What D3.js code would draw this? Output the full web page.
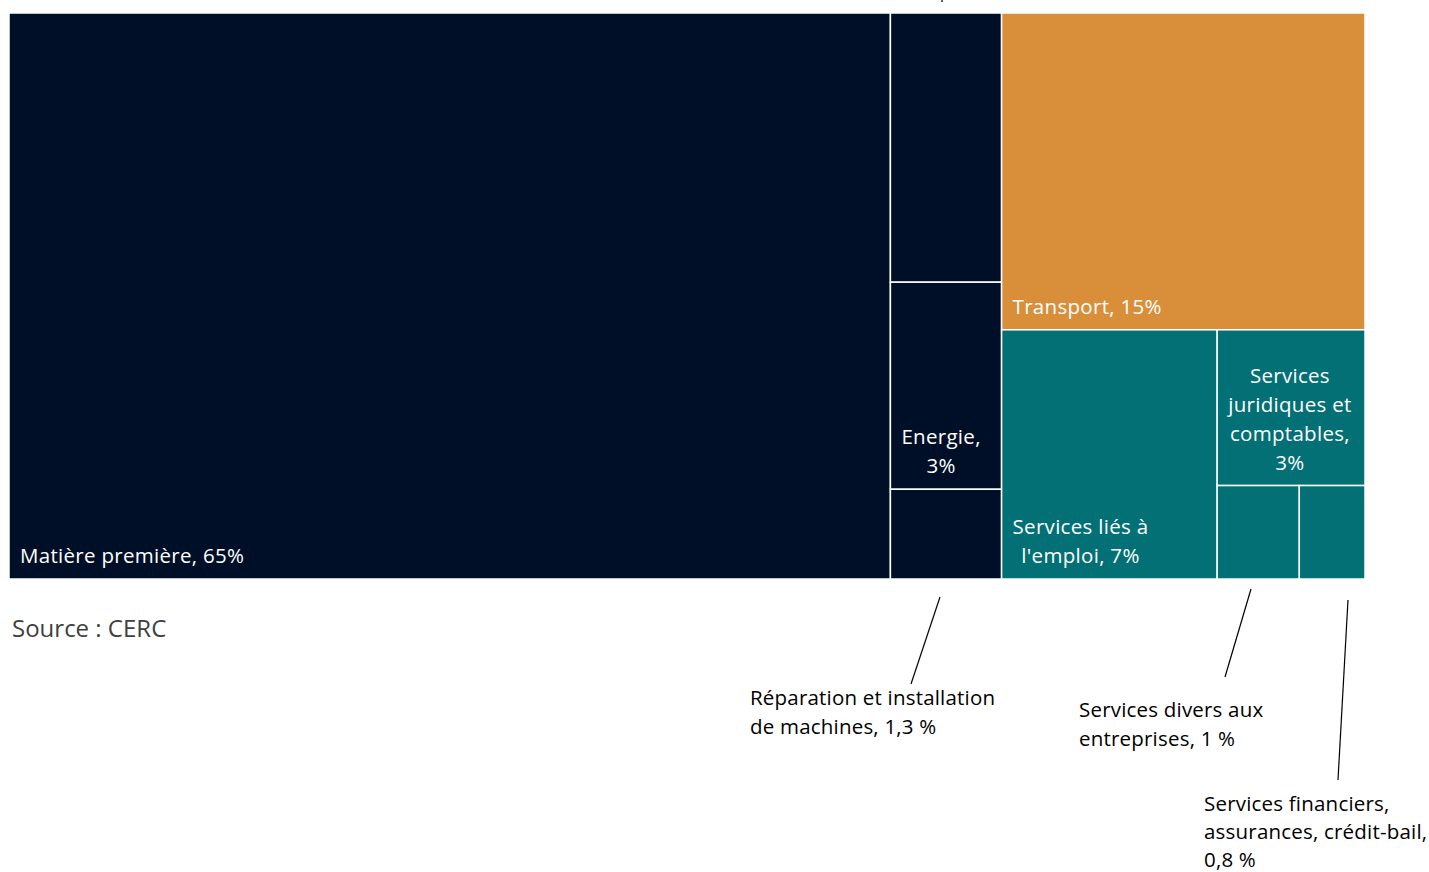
<!DOCTYPE html>
<html>
<head>
<meta charset="utf-8">
<script src="https://cdn.jsdelivr.net/npm/d3@7"></script>
<style>
  body { margin: 0; background: #fff; }
  svg { display: block; }
  .cell-label { font-family: "Open Sans", sans-serif; font-size: 20.5px; letter-spacing: 0.3px; fill: #fff; }
  .callout { font-family: "Open Sans", sans-serif; font-size: 20.5px; letter-spacing: 0.2px; fill: #000; }
  .source { font-family: "Open Sans", sans-serif; font-size: 24px; fill: #404040; }
</style>
</head>
<body>
<div id="container"></div>
<script>
// shares of the cost structure (%)
let groups = ["Industrie", "Transport", "Services"];
let groupColors = ["#000f28", "#d98f39", "#037075"];
let categories = ["Matière première", "Autres", "Energie", "Réparation et installation de machines",
  "Transport", "Services liés à l'emploi", "Services juridiques et comptables",
  "Services divers aux entreprises", "Services financiers, assurances, crédit-bail"];
let categoryGroup = ["Industrie", "Industrie", "Industrie", "Industrie",
  "Transport", "Services", "Services", "Services", "Services"];
let values = [65, 3.9, 3, 1.3, 15, 7, 3, 1, 0.8];
// labels drawn inside the cells ("" = no label inside)
let cellLabels = ["Matière première, 65%", "", "Energie,\n3%", "",
  "Transport, 15%", "Services liés à\nl'emploi, 7%", "Services\njuridiques et\ncomptables,\n3%", "", ""];
// labels drawn outside with a leader line
let calloutLabels = ["Réparation et installation\nde machines, 1,3 %",
  "Services divers aux\nentreprises, 1 %",
  "Services financiers,\nassurances, crédit-bail,\n0,8 %"];

createTreemap();

function createTreemap() {
  let width = 1429, height = 872;
  let svg = d3.select('#container')
    .append('svg')
    .attr('width', width)
    .attr('height', height);

  let tree = {
    name: "root",
    children: groups.map(g => ({
      name: g,
      children: categories
        .map((c, i) => ({ name: c, value: values[i], idx: i }))
        .filter(d => categoryGroup[d.idx] === g)
    }))
  };

  let root = d3.hierarchy(tree)
    .sum(d => d.value || 0)
    .sort((a, b) => b.value - a.value);

  // greedy strips: the biggest child takes a full strip along the short side, then recurse
  function stripTile(parent, x0, y0, x1, y1) {
    let nodes = parent.children;
    let rest = parent.value;
    for (let i = 0; i < nodes.length; i++) {
      let n = nodes[i];
      if (i === nodes.length - 1) {
        n.x0 = x0; n.y0 = y0; n.x1 = x1; n.y1 = y1;
        break;
      }
      let k = n.value / rest;
      if (x1 - x0 >= y1 - y0) {
        let xm = x0 + (x1 - x0) * k;
        n.x0 = x0; n.y0 = y0; n.x1 = xm; n.y1 = y1;
        x0 = xm;
      } else {
        let ym = y0 + (y1 - y0) * k;
        n.x0 = x0; n.y0 = y0; n.x1 = x1; n.y1 = ym;
        y0 = ym;
      }
      rest -= n.value;
    }
  }

  d3.treemap()
    .tile(stripTile)
    .size([1356, 566])
    .round(false)(root);

  let g = svg.append('g').attr('transform', 'translate(9,13)');
  let color = d3.scaleOrdinal().domain(groups).range(groupColors);

  let leaves = g.selectAll('g.leaf')
    .data(root.leaves())
    .enter()
    .append('g')
    .attr('class', 'leaf');

  leaves.append('rect')
    .attr('x', d => d.x0)
    .attr('y', d => d.y0)
    .attr('width', d => d.x1 - d.x0)
    .attr('height', d => d.y1 - d.y0)
    .attr('fill', d => color(d.parent.data.name))
    .attr('stroke', '#fff')
    .attr('stroke-width', 1.5);

  // labels: block anchored bottom-left of the cell, lines centred inside the block
  let lh = 29;
  leaves.each(function(d) {
    let label = cellLabels[d.data.idx];
    if (!label) return;
    let lines = label.split('\n');
    let text = d3.select(this).append('text')
      .attr('class', 'cell-label')
      .attr('text-anchor', 'middle');
    let spans = lines.map((l, i) => text.append('tspan')
      .attr('y', d.y1 - 16 - lh * (lines.length - 1 - i))
      .text(l));
    let maxW = d3.max(spans, s => s.node().getComputedTextLength());
    spans.forEach(s => s.attr('x', d.x0 + 11 + maxW / 2));
  });

  // callouts for the small cells
  let byName = {};
  root.leaves().forEach(d => byName[d.data.name] = d);
  let callouts = [
    { node: byName["Réparation et installation de machines"], label: calloutLabels[0],
      line: [[940, 597], [911, 684]], tx: 750, ty: 705, lh: 28.5 },
    { node: byName["Services divers aux entreprises"], label: calloutLabels[1],
      line: [[1251, 589], [1225, 677]], tx: 1079, ty: 717, lh: 28.5 },
    { node: byName["Services financiers, assurances, crédit-bail"], label: calloutLabels[2],
      line: [[1348, 600], [1338, 780]], tx: 1204, ty: 811, lh: 28 }
  ];

  callouts.forEach(c => {
    svg.append('line')
      .attr('x1', c.line[0][0]).attr('y1', c.line[0][1])
      .attr('x2', c.line[1][0]).attr('y2', c.line[1][1])
      .attr('stroke', '#000')
      .attr('stroke-width', 1.2);
    let t = svg.append('text').attr('class', 'callout');
    c.label.split('\n').forEach((l, i) => {
      t.append('tspan').attr('x', c.tx).attr('y', c.ty + i * c.lh).text(l);
    });
  });

  // leader of the unlabelled top cell (its label sits above the visible area)
  svg.append('line')
    .attr('x1', 943).attr('y1', -20)
    .attr('x2', 942).attr('y2', 2)
    .attr('stroke', '#000')
    .attr('stroke-width', 1.2);

  svg.append('text')
    .attr('class', 'source')
    .attr('x', 12)
    .attr('y', 637)
    .text('Source : CERC');
}
</script>
</body>
</html>
